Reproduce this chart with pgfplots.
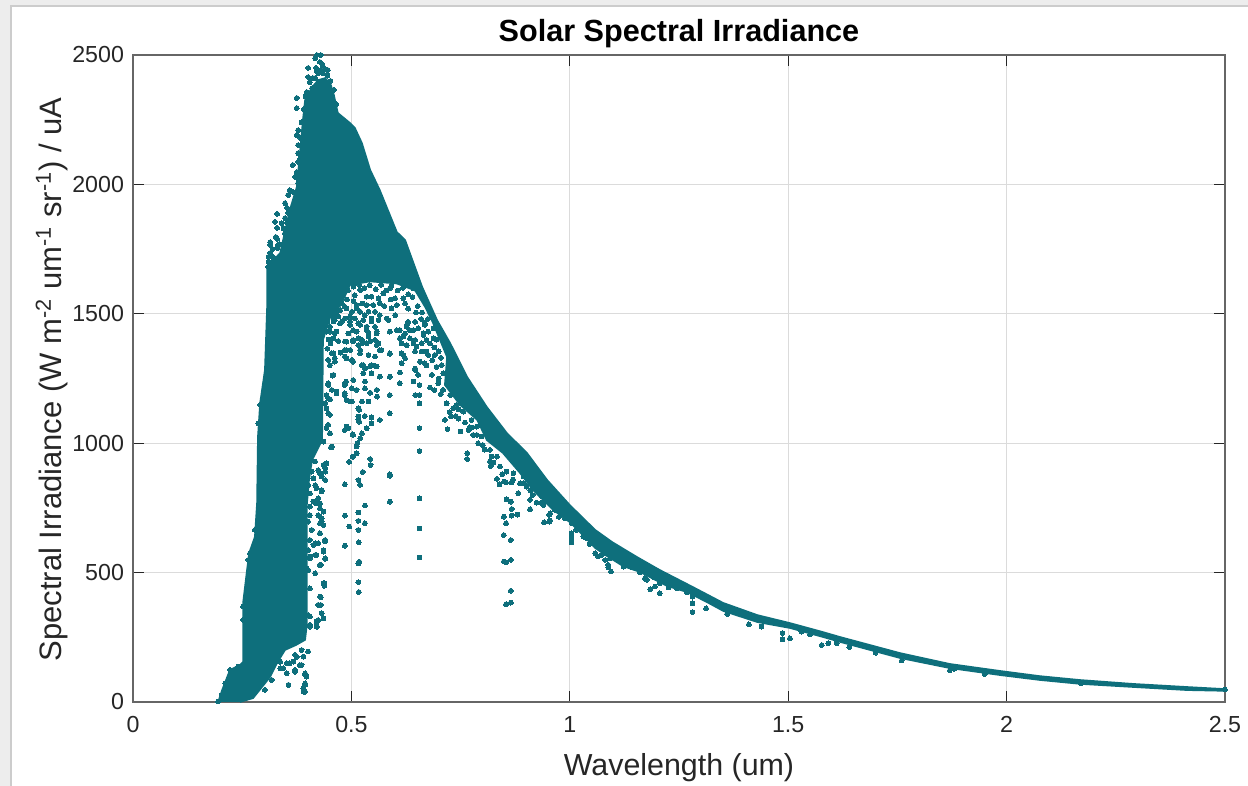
\documentclass[border=0pt]{standalone}
\usepackage{fontspec}
\setmainfont{Liberation Sans}
\usepackage{pgfplots}
\pgfplotsset{compat=1.18}
\definecolor{spec}{HTML}{0E6F7C}
\definecolor{axgray}{HTML}{262626}
\begin{document}
\begin{tikzpicture}
  % page and window edge (1 px = 0.5 pt)
  \path[use as bounding box] (-66.5pt,-42pt) rectangle (557.5pt,351pt);
  \fill[white] (-66.5pt,-42pt) rectangle (557.5pt,351pt);
  \fill[black!7] (-66.5pt,-42pt) rectangle (-61.5pt,351pt);
  \fill[black!7] (-66.5pt,348.5pt) rectangle (557.5pt,351pt);
  \draw[black!20,line width=0.8pt] (-61pt,-42pt) -- (-61pt,348pt) -- (557.5pt,348pt);

  \begin{axis}[
    at={(0pt,0pt)}, anchor=south west,
    scale only axis, width=546pt, height=323.5pt,
    xmin=0, xmax=2.5, ymin=0, ymax=2500,
    xtick={0,0.5,1,1.5,2,2.5},
    xticklabels={0,0.5,1,1.5,2,2.5},
    ytick={0,500,1000,1500,2000,2500},
    yticklabels={0,500,1000,1500,2000,2500},
    tick align=inside, major tick length=5.5pt,
    tick style={axgray,line width=0.5pt},
    xtick pos=both, ytick pos=both,
    axis line style={black!60,line width=0.8pt},
    grid=major, grid style={black!14,line width=0.6pt},
    clip=false,
    tick label style={font=\fontsize{11.6}{14}\selectfont,text=axgray},
    xticklabel style={yshift=-3.5pt},
    yticklabel style={xshift=-1pt},
    xlabel={Wavelength (um)},
    ylabel={Spectral Irradiance (W m\textsuperscript{-2} um\textsuperscript{-1} sr\textsuperscript{-1}) / uA},
    title={Solar Spectral Irradiance},
    every axis x label/.style={at={(axis description cs:0.5,-0.102)},anchor=center,font=\fontsize{15.2}{18}\selectfont,text=axgray},
    every axis y label/.style={at={(axis description cs:-0.0745,0.4985)},anchor=center,rotate=90,font=\fontsize{15.5}{18}\selectfont,text=axgray},
    every axis title/.style={at={(axis description cs:0.5,1.0335)},anchor=center,font=\bfseries\fontsize{15.3}{18}\selectfont,text=black},
  ]
  % dense body of the cloud, outline
  \addplot[fill=spec,draw=spec,line width=0.8pt] coordinates {
    (0.195,0) (0.204,46) (0.222,124) (0.245,143) (0.252,155) (0.252,383)
    (0.261,510) (0.266,576) (0.279,638) (0.284,769) (0.286,1024) (0.291,1155)
    (0.302,1283) (0.307,1526) (0.307,1681) (0.337,1735) (0.359,1901) (0.375,1990)
    (0.389,2249) (0.394,2326) (0.410,2376) (0.424,2403) (0.440,2411) (0.453,2384)
    (0.460,2345) (0.469,2276) (0.497,2237) (0.508,2218) (0.524,2160) (0.543,2056)
    (0.565,1978) (0.604,1816) (0.623,1785) (0.662,1604) (0.696,1476) (0.726,1387)
    (0.765,1256) (0.810,1140) (0.856,1039) (0.902,962) (0.948,858) (1.000,761)
    (1.058,665) (1.097,618) (1.154,560) (1.206,510) (1.282,444) (1.351,383)
    (1.429,336) (1.504,305) (1.580,270) (1.619,251) (1.756,189) (1.870,147)
    (1.985,120) (2.076,100) (2.168,85) (2.289,70) (2.413,58) (2.5,50)
    (2.5,43) (2.413,46) (2.289,58) (2.168,70) (2.076,85) (1.985,104)
    (1.870,131) (1.756,170) (1.619,232) (1.580,251) (1.504,286) (1.429,309)
    (1.351,352) (1.314,386) (1.268,425) (1.223,448) (1.161,502) (1.122,525)
    (1.085,564) (1.058,595) (1.030,645) (1.000,695) (0.962,742) (0.916,819)
    (0.886,885) (0.847,962) (0.810,1012) (0.788,1090) (0.749,1148) (0.714,1225)
    (0.719,1333) (0.687,1464) (0.669,1526) (0.646,1590) (0.604,1617) (0.543,1625)
    (0.497,1612) (0.476,1534) (0.453,1495) (0.435,1399) (0.433,1012) (0.410,935)
    (0.403,858) (0.398,760) (0.398,297) (0.394,240) (0.373,220) (0.348,201)
    (0.330,151) (0.314,97) (0.275,15) (0.245,0)
  };
  % separate points
  \addplot[only marks,color=spec,mark=*,mark size=1.2pt,mark options={draw=spec,fill=spec,line width=0pt}] coordinates {
    % upper left edge and peak
    (0.375,2334) (0.375,2295) (0.378,2210) (0.375,2191) (0.378,2152) (0.389,2141)
    (0.378,2121) (0.366,2075) (0.378,2087) (0.389,2075) (0.375,2048) (0.389,2036)
    (0.371,2029) (0.378,2005) (0.359,1978) (0.366,1971) (0.355,1959) (0.348,1928)
    (0.353,1909) (0.330,1886) (0.348,1870) (0.325,1855) (0.353,1851) (0.330,1832)
    (0.348,1812) (0.327,1797) (0.314,1777) (0.332,1766) (0.314,1766) (0.314,1735)
    (0.330,1754) (0.321,1719) (0.309,1681) (0.341,1727) (0.359,1774)
    (0.401,2450) (0.401,2415) (0.421,2500) (0.430,2500) (0.417,2488) (0.428,2473)
    (0.433,2465) (0.419,2450) (0.446,2442) (0.424,2430) (0.435,2430) (0.410,2372)
    (0.398,2357) (0.417,2411) (0.412,2411)
    (0.405,2395) (0.420,2440) (0.435,2455) (0.440,2445) (0.452,2400) (0.460,2365)
    (0.465,2310) (0.395,2340) (0.391,2290) (0.386,2240) (0.445,2420) (0.428,2440)
    (0.330,1790) (0.345,1830) (0.360,1860) (0.370,1930) (0.380,2020) (0.383,2100)
    (0.383,2180) (0.385,2060) (0.320,1750) (0.335,1770) (0.352,1800) (0.365,1880)
    (0.375,1960) (0.340,1850) (0.355,1890) (0.310,1720) (0.310,1700) (0.320,1700)
    % left edge of the column
    (0.268,575) (0.264,549) (0.291,1148) (0.287,1077) (0.279,665) (0.252,369)
    (0.252,317) (0.222,124) (0.241,137) (0.211,72) (0.203,27) (0.195,2)
    % right of the column
    (0.457,1261) (0.447,1225) (0.443,1186) (0.451,1170) (0.440,1154) (0.447,1116)
    (0.443,1058) (0.451,1038) (0.436,1006) (0.455,984)
    (0.440,903) (0.428,884) (0.432,819) (0.424,787) (0.436,736) (0.428,716)
    (0.432,697) (0.428,652) (0.440,620) (0.413,607) (0.424,613) (0.405,562)
    (0.420,568) (0.436,581) (0.428,530) (0.417,497) (0.436,459) (0.405,439)
    (0.428,407) (0.424,375) (0.432,343) (0.436,323) (0.420,311) (0.405,291)
    (0.420,291) (0.401,336) (0.401,195) (0.394,111) (0.397,98) (0.394,66)
    (0.391,40) (0.356,66) (0.371,117) (0.386,143) (0.375,175) (0.359,150)
    (0.344,130) (0.336,156)
    (0.428,768) (0.440,858) (0.443,922) (0.401,510)
    (0.440,626) (0.440,553) (0.430,530) (0.438,459) (0.438,449) (0.430,405) (0.430,375)
    (0.401,922) (0.417,929) (0.436,916) (0.409,890) (0.424,896) (0.440,890)
    (0.413,864) (0.432,871) (0.401,838) (0.417,838) (0.420,826) (0.432,813)
    (0.405,806) (0.413,774) (0.420,768) (0.405,755) (0.428,748) (0.436,735)
    (0.405,722) (0.424,722) (0.432,710) (0.401,697) (0.428,690) (0.436,684)
    (0.409,665) (0.428,652) (0.405,626) (0.440,626) (0.417,613) (0.424,613)
    (0.401,587) (0.436,587) (0.417,568) (0.440,555) (0.405,555) (0.428,529)
    (0.398,516) (0.417,497)
    (0.455,1347) (0.462,1328) (0.451,1302) (0.459,1264) (0.447,1232) (0.455,1206)
    (0.447,1174) (0.443,1135) (0.451,1109) (0.447,1071) (0.451,1038) (0.455,987)
    (0.466,1193) (0.485,1232) (0.485,1186) (0.501,1322) (0.504,1244) (0.489,1360)
    (0.485,1335) (0.497,1161) (0.489,1058) (0.504,1032) (0.516,1135) (0.516,1090)
    (0.512,987) (0.504,948)
    (0.390,175) (0.371,124) (0.352,111) (0.337,130) (0.394,105) (0.394,72)
    (0.356,66) (0.390,53) (0.394,40) (0.318,85) (0.302,47) (0.405,298)
    (0.405,330) (0.424,317) (0.424,375) (0.421,291)
    (0.337,156) (0.352,150) (0.367,156) (0.382,143) (0.371,182) (0.386,201)
    % open region under the peak
    (0.459,1347) (0.485,1393) (0.504,1393) (0.524,1386) (0.543,1393) (0.562,1386)
    (0.485,1360) (0.520,1360) (0.554,1335) (0.569,1360) (0.588,1345) (0.615,1386)
    (0.619,1341) (0.615,1309) (0.649,1373) (0.672,1354) (0.485,1335) (0.504,1315)
    (0.524,1302) (0.543,1296) (0.554,1299) (0.531,1289) (0.611,1273) (0.565,1257)
    (0.588,1257) (0.646,1283) (0.653,1264) (0.527,1270) (0.546,1270) (0.488,1238)
    (0.504,1244) (0.531,1238) (0.485,1225) (0.611,1232) (0.642,1238) (0.656,1225)
    (0.684,1264) (0.699,1232) (0.501,1212) (0.512,1206) (0.531,1212) (0.558,1206)
    (0.588,1186) (0.466,1199) (0.485,1193) (0.543,1195) (0.559,1180) (0.646,1186)
    (0.656,1186) (0.489,1167) (0.501,1161) (0.524,1161) (0.539,1161) (0.656,1154)
    (0.516,1135) (0.518,1129) (0.588,1116) (0.516,1103) (0.531,1105) (0.546,1100)
    (0.565,1090) (0.518,1083) (0.546,1077) (0.535,1058) (0.489,1064) (0.485,1051)
    (0.493,1058) (0.524,1038) (0.503,1034) (0.520,1019) (0.514,1000) (0.656,1058)
    (0.714,1090) (0.720,1054) (0.728,1103) (0.739,1105) (0.750,1045) (0.771,1062)
    (0.768,1051) (0.779,1032) (0.787,1032) (0.656,970) (0.453,984) (0.765,961)
    (0.765,939) (0.801,993) (0.512,961) (0.503,948) (0.495,928) (0.543,939)
    (0.544,916) (0.526,889) (0.516,858) (0.520,839) (0.485,841) (0.588,880)
    (0.588,874) (0.588,774) (0.656,787) (0.531,759) (0.485,720) (0.516,732)
    (0.516,700) (0.531,691) (0.495,678) (0.516,665) (0.656,670) (0.517,617)
    (0.485,604) (0.516,536) (0.518,542) (0.656,558) (0.516,463) (0.517,425)
    % strings of points just under the dense body
    (0.508,1572) (0.520,1592) (0.535,1566) (0.546,1566) (0.562,1560) (0.573,1579)
    (0.588,1598) (0.600,1560) (0.619,1560) (0.485,1527) (0.512,1534) (0.535,1534)
    (0.550,1534) (0.565,1540) (0.592,1521) (0.604,1534) (0.623,1540) (0.642,1598)
    (0.455,1508) (0.474,1514) (0.501,1508) (0.520,1508) (0.539,1508) (0.554,1508)
    (0.600,1495) (0.630,1469) (0.646,1469) (0.462,1476) (0.485,1482) (0.508,1482)
    (0.527,1476) (0.546,1482) (0.562,1476) (0.581,1482) (0.626,1450) (0.642,1437)
    (0.668,1463) (0.451,1450) (0.474,1463) (0.497,1457) (0.520,1457) (0.535,1450)
    (0.554,1450) (0.604,1437) (0.623,1424) (0.653,1444) (0.676,1431) (0.688,1444)
    (0.443,1431) (0.462,1424) (0.493,1424) (0.512,1431) (0.539,1424) (0.558,1424)
    (0.588,1431) (0.611,1405) (0.634,1405) (0.665,1418) (0.489,1392) (0.504,1399)
    (0.524,1399) (0.554,1399) (0.615,1386) (0.642,1386) (0.672,1399) (0.688,1405)
    (0.535,1386)
    (0.459,1540) (0.478,1540) (0.451,1515) (0.466,1508) (0.489,1521) (0.512,1521)
    (0.459,1489) (0.497,1489) (0.531,1495) (0.565,1495) (0.585,1476)
    (0.459,1470) (0.478,1470) (0.497,1470) (0.516,1463) (0.546,1470) (0.611,1437)
    (0.627,1457) (0.588,1431) (0.451,1431) (0.466,1431) (0.504,1437) (0.535,1437)
    (0.558,1431) (0.665,1425) (0.634,1437) (0.668,1457) (0.459,1405) (0.489,1392)
    (0.516,1405) (0.539,1412) (0.558,1379) (0.619,1412) (0.646,1399) (0.672,1399)
    (0.661,1386) (0.627,1379) (0.565,1360) (0.516,1379) (0.497,1360) (0.447,1322)
    (0.462,1315) (0.485,1360) (0.489,1328) (0.504,1315) (0.520,1347) (0.539,1341)
    (0.546,1302) (0.588,1347) (0.615,1347) (0.623,1328) (0.646,1354) (0.661,1354)
    (0.676,1341) (0.691,1341) (0.657,1315) (0.668,1309) (0.707,1302) (0.646,1289)
    (0.527,1302) (0.558,1296)
    (0.480,1600) (0.492,1590) (0.505,1605) (0.518,1612) (0.530,1600) (0.542,1610)
    (0.556,1595) (0.568,1612) (0.580,1590) (0.592,1608) (0.606,1590) (0.618,1600)
    (0.630,1575) (0.640,1565) (0.652,1530) (0.662,1505) (0.675,1480) (0.660,1480)
    (0.648,1505) (0.630,1520) (0.505,1550) (0.490,1555) (0.470,1545) (0.525,1540)
    (0.575,1530) (0.590,1555) (0.470,1490) (0.445,1470) (0.448,1400) (0.445,1365)
    (0.452,1385) (0.470,1395) (0.475,1350)
    % fringe of the falling band
    (0.695,1400) (0.690,1370) (0.700,1355) (0.705,1330) (0.685,1320) (0.695,1295)
    (0.710,1270) (0.700,1250) (0.690,1205) (0.705,1190) (0.680,1385) (0.672,1300)
    (0.680,1215) (0.725,1120) (0.745,1095) (0.760,1080) (0.775,1060) (0.745,1130)
    (0.790,1000) (0.805,975) (0.825,925) (0.845,880) (0.870,860) (0.895,845)
    (0.915,800) (0.935,770) (0.975,715) (1.015,665) (1.045,610)
    (0.710,1206) (0.726,1186) (0.741,1148) (0.756,1122) (0.718,1154) (0.733,1135)
    (0.775,1090) (0.787,1064) (0.798,1026) (0.817,974) (0.833,948)
    (0.817,929) (0.819,912) (0.821,948) (0.833,862) (0.839,841) (0.850,852)
    (0.854,848) (0.867,848) (0.886,845) (0.882,807) (0.909,819) (0.855,783)
    (0.865,774) (0.909,781) (0.924,770) (0.909,745) (0.880,724) (0.867,746)
    (0.867,720) (0.849,716) (0.854,691) (0.849,645) (0.865,626) (0.849,543)
    (0.854,539) (0.865,549) (0.865,430) (0.865,384) (0.854,378) (0.941,694)
    (0.955,701) (0.955,729) (0.939,768) (0.955,768) (0.966,742)
    (0.840,910) (0.855,890) (0.871,884) (0.894,871) (0.901,832) (0.924,819)
    (0.936,794) (0.947,794) (0.886,897) (0.916,845)
    % dips below the tail
    (0.939,761) (0.953,723) (0.953,697) (0.989,710) (1.004,691) (1.004,652)
    (1.004,633) (1.004,616) (1.058,575) (1.081,549) (1.088,530) (1.088,520)
    (1.094,504) (1.123,523) (1.142,520) (1.161,500) (1.184,436) (1.195,446)
    (1.206,420) (1.226,443) (1.245,439) (1.268,423) (1.281,407) (1.281,381)
    (1.281,347) (1.312,362) (1.439,291) (1.487,242) (1.487,266) (1.504,246)
    (1.577,220) (1.592,227) (1.611,227) (1.199,478) (1.172,478) (1.039,633)
    (1.065,562) (1.073,568) (1.031,639) (1.069,600) (1.092,555) (1.176,472)
    (1.191,484) (1.206,459) (1.70,190) (1.76,160) (1.87,122) (1.88,128)
    (1.95,108) (2.17,72) (2.168,76) (1.64,212) (1.55,262) (1.53,272)
    (1.41,300) (1.36,340) (2.5,48)
  };
  \end{axis}
\end{tikzpicture}
\end{document}
